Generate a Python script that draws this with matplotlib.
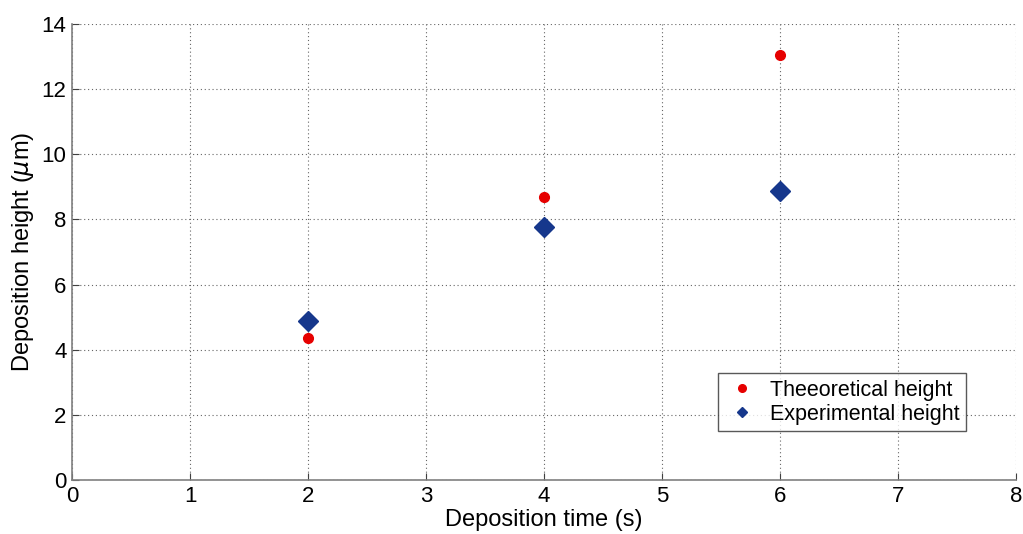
import matplotlib.pyplot as plt
import numpy as np

time_s = [2, 4, 6]
theoretical = [4.36, 8.69, 13.05]
experimental = [4.88, 7.77, 8.87]

plt.rcParams['font.family'] = ['Arial', 'Liberation Sans', 'DejaVu Sans']

fig = plt.figure(figsize=(10.23, 5.34), dpi=100)
ax = fig.add_axes([0.0704, 0.1011, 0.9228, 0.8539])

ax.plot(time_s, theoretical, 'o', color='#e60000', markersize=7, label='Theeoretical height', zorder=3)
ax.plot(time_s, experimental, 'D', color='#16378c', markersize=10, label='Experimental height', zorder=3)

ax.set_xlim(0, 8)
ax.set_ylim(0, 14)
ax.set_xticks(np.arange(0, 9, 1))
ax.set_yticks(np.arange(0, 15, 2))
ax.grid(True, linestyle=(0, (1, 2.5)), color='#666666', linewidth=0.8)
ax.set_axisbelow(True)

for s in ['top', 'right']:
    ax.spines[s].set_visible(False)
for s in ['left', 'bottom']:
    ax.spines[s].set_color('#808080')
    ax.spines[s].set_linewidth(1.2)
ax.tick_params(direction='in', length=5, color='#404040', labelsize=16, pad=4)

ax.set_xlabel('Deposition time (s)', fontsize=17, labelpad=2)
ax.set_ylabel(r'Deposition height ($\mu$m)', fontsize=17, labelpad=4)

leg = ax.legend(loc='lower right', bbox_to_anchor=(0.958, 0.083), fontsize=15.5,
                frameon=True, fancybox=False, edgecolor='#303030', markerscale=0.6,
                handletextpad=0.5, borderpad=0.3, labelspacing=0.15, handlelength=1.6)
leg.legend_handles[1].set_markersize(5)
leg.legend_handles[0].set_markersize(5.5)
leg.get_frame().set_linewidth(1.0)

fig.savefig('out.png', dpi=100)
